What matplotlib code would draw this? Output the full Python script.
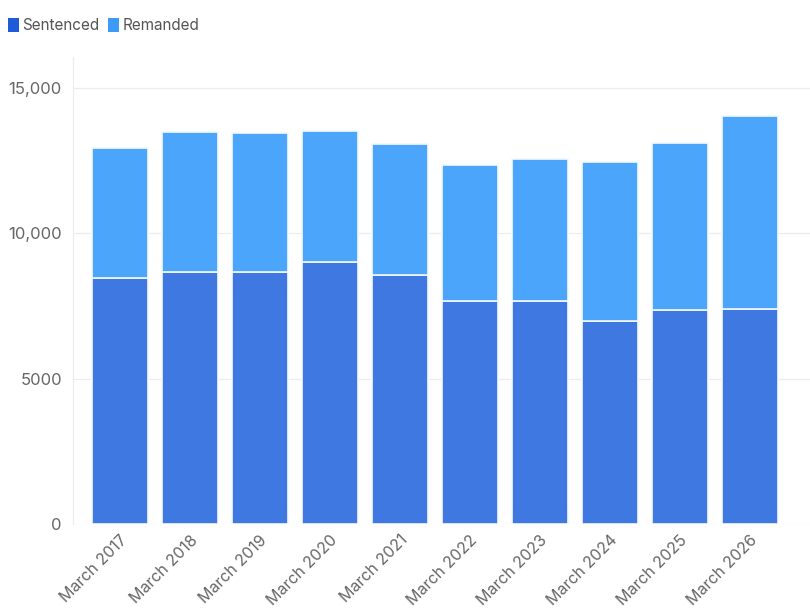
import numpy as np
import matplotlib.pyplot as plt
import matplotlib.transforms as mtransforms
from matplotlib.patches import Patch

years = ["March 2017", "March 2018", "March 2019", "March 2020", "March 2021",
         "March 2022", "March 2023", "March 2024", "March 2025", "March 2026"]
sentenced = [8470, 8670, 8660, 9000, 8580, 7680, 7680, 6990, 7370, 7400]
totals = [12950, 13480, 13450, 13520, 13070, 12340, 12540, 12450, 13100, 14050]
remanded = [t - s for t, s in zip(totals, sentenced)]

yticks = [0, 5000, 10000, 15000]
yticklabels = ["0", "5000", "10,000", "15,000"]

plt.rcParams['font.family'] = ['Inter', 'DejaVu Sans']

fig = plt.figure(figsize=(8.1, 6.08), dpi=100)
ax = fig.add_axes([0.0901, 0.138, 0.91, 0.768])

x = np.arange(len(years))
ax.bar(x, sentenced, width=0.8, color="#3e78e0", edgecolor="#f4f8ff", linewidth=1.2, zorder=3)
ax.bar(x, remanded, width=0.8, bottom=sentenced, color="#4ba6fb", edgecolor="#f4f8ff",
       linewidth=1.2, zorder=3)

ax.set_xlim(-0.667, 9.86)
ax.set_ylim(0, 16060)
ax.set_yticks(yticks)
ax.set_yticklabels(yticklabels)
ax.set_xticks(x)
ax.set_xticklabels(years, rotation=45, ha="right", rotation_mode="anchor")

offset = mtransforms.ScaledTranslation(0.13, -0.02, fig.dpi_scale_trans)
for lab in ax.get_xticklabels():
    lab.set_transform(lab.get_transform() + offset)

ax.tick_params(axis="y", length=0, pad=8, labelsize=12, labelcolor="#666666")
ax.tick_params(axis="x", length=0, pad=6, labelsize=11.5, labelcolor="#666666")

ax.grid(axis="y", color="#ececec", linewidth=0.9, zorder=0)
for side in ["top", "right", "bottom"]:
    ax.spines[side].set_visible(False)
ax.spines["left"].set_color("#ececec")

handles = [Patch(facecolor="#1e5bd8", edgecolor="none", label="Sentenced"),
           Patch(facecolor="#3d9bf5", edgecolor="none", label="Remanded")]
fig.legend(handles=handles, loc="upper left", bbox_to_anchor=(0.0, 0.985), ncol=2,
           frameon=False, fontsize=11, handlelength=0.7, handleheight=1.1,
           handletextpad=0.2, columnspacing=0.6, labelcolor="#555555",
           borderaxespad=0.15)

fig.savefig("out.png", dpi=100)
